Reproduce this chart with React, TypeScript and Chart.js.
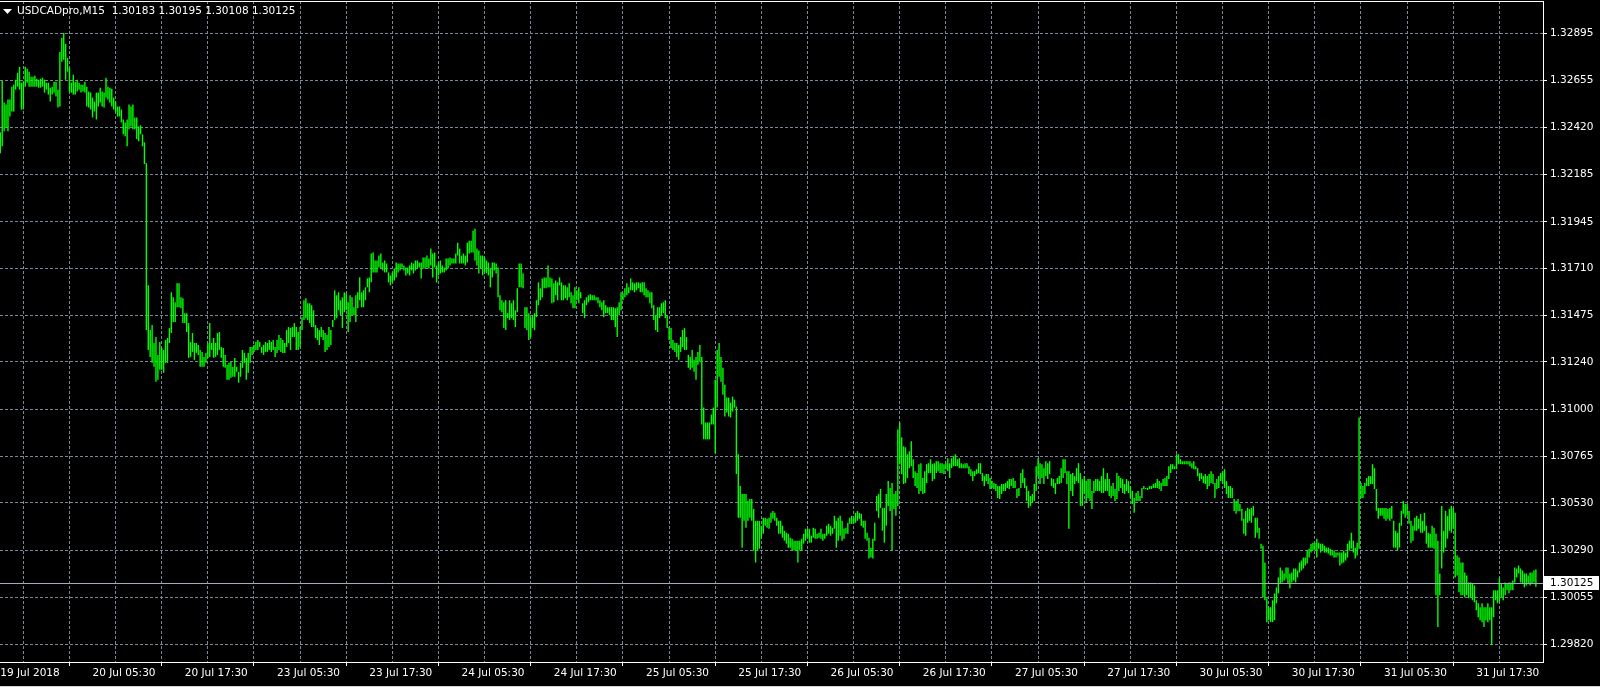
import React, { useEffect, useRef } from 'react';
import { Chart, registerables } from 'chart.js';

Chart.register(...registerables);

const chartSymbol = 'USDCADpro,M15';
const lastBarOhlc = ['1.30183', '1.30195', '1.30108', '1.30125'];
const lastClose = 1.30125;

const xTickLabels = [
  '19 Jul 2018', '20 Jul 05:30', '20 Jul 17:30', '23 Jul 05:30', '23 Jul 17:30', '24 Jul 05:30',
  '24 Jul 17:30', '25 Jul 05:30', '25 Jul 17:30', '26 Jul 05:30', '26 Jul 17:30', '27 Jul 05:30',
  '27 Jul 17:30', '30 Jul 05:30', '30 Jul 17:30', '31 Jul 05:30', '31 Jul 17:30',
];

const yTickLabels = [
  '1.29820', '1.30055', '1.30290', '1.30530', '1.30765', '1.31000', '1.31240',
  '1.31475', '1.31710', '1.31945', '1.32185', '1.32420', '1.32655', '1.32895',
];

const highs = [
  1.32395, 1.32655, 1.32545, 1.32535, 1.3256, 1.3256, 1.32625, 1.32635, 1.3266, 1.32695,
  1.32725, 1.32645, 1.3265, 1.32725, 1.32715, 1.327, 1.32675, 1.32675, 1.3268, 1.32665,
  1.3266, 1.32665, 1.3267, 1.3266, 1.32645, 1.32645, 1.3262, 1.32625, 1.3265, 1.3265,
  1.3261, 1.328, 1.3287, 1.32895, 1.3284, 1.3277, 1.3272, 1.32645, 1.32685, 1.3265,
  1.3266, 1.32645, 1.32635, 1.32635, 1.3265, 1.32625, 1.326, 1.32595, 1.3257, 1.3255,
  1.32595, 1.32595, 1.3262, 1.326, 1.32595, 1.3267, 1.32625, 1.3262, 1.32615, 1.3257,
  1.3255, 1.32525, 1.32525, 1.3251, 1.3246, 1.32445, 1.3246, 1.32535, 1.32525, 1.32535,
  1.3247, 1.3247, 1.32425, 1.3243, 1.32385, 1.32345, 1.3224, 1.31625, 1.314, 1.31425,
  1.31335, 1.31365, 1.31275, 1.3134, 1.3131, 1.313, 1.3135, 1.3136, 1.3141, 1.3159,
  1.31565, 1.3154, 1.31635, 1.31635, 1.31565, 1.3156, 1.31485, 1.31485, 1.31435, 1.3134,
  1.31385, 1.31335, 1.31335, 1.31325, 1.313, 1.3129, 1.31265, 1.31285, 1.31335, 1.31435,
  1.31335, 1.3136, 1.31335, 1.31385, 1.3139, 1.31315, 1.3131, 1.31275, 1.31225, 1.31235,
  1.3124, 1.31215, 1.3126, 1.31215, 1.3119, 1.31235, 1.313, 1.31285, 1.3126, 1.31285,
  1.31315, 1.31315, 1.31325, 1.3134, 1.3135, 1.3134, 1.31315, 1.31325, 1.3134, 1.31335,
  1.3135, 1.3134, 1.3135, 1.31315, 1.3135, 1.31375, 1.3136, 1.3135, 1.31335, 1.314,
  1.31415, 1.3141, 1.31415, 1.31435, 1.31415, 1.3139, 1.31415, 1.31465, 1.3155, 1.3156,
  1.31535, 1.31535, 1.31525, 1.315, 1.31425, 1.3141, 1.314, 1.31415, 1.314, 1.31385,
  1.31375, 1.31415, 1.314, 1.3145, 1.316, 1.31575, 1.3159, 1.3155, 1.31565, 1.3159,
  1.31585, 1.3154, 1.31575, 1.31565, 1.31515, 1.31575, 1.3159, 1.31665, 1.3159, 1.316,
  1.31615, 1.3166, 1.31665, 1.31785, 1.3179, 1.3175, 1.3175, 1.31775, 1.31785, 1.3174,
  1.3175, 1.31735, 1.3169, 1.31675, 1.3169, 1.3171, 1.3174, 1.31735, 1.31735, 1.31735,
  1.31725, 1.31715, 1.31715, 1.31725, 1.3174, 1.31735, 1.3175, 1.3175, 1.3174, 1.3174,
  1.31765, 1.31765, 1.31775, 1.3176, 1.3181, 1.31785, 1.3179, 1.31725, 1.3174, 1.3175,
  1.31725, 1.31715, 1.3176, 1.3176, 1.31765, 1.3176, 1.3176, 1.31785, 1.3184, 1.3181,
  1.31775, 1.31785, 1.31775, 1.3184, 1.3185, 1.3185, 1.319, 1.3191, 1.3181, 1.318,
  1.31775, 1.31775, 1.31765, 1.3175, 1.3174, 1.3171, 1.3174, 1.3174, 1.31735, 1.31715,
  1.31575, 1.3155, 1.3154, 1.3155, 1.31485, 1.3155, 1.31535, 1.3155, 1.315, 1.3161,
  1.31735, 1.31735, 1.31685, 1.31515, 1.31515, 1.31485, 1.31465, 1.31475, 1.31485, 1.3155,
  1.3164, 1.3161, 1.3166, 1.31665, 1.31665, 1.31725, 1.31665, 1.3166, 1.31635, 1.3165,
  1.3164, 1.31665, 1.3164, 1.31625, 1.31625, 1.31615, 1.31635, 1.3159, 1.31575, 1.31615,
  1.316, 1.31615, 1.3159, 1.31535, 1.3155, 1.31565, 1.31575, 1.3158, 1.31575, 1.31575,
  1.31565, 1.31565, 1.3155, 1.3154, 1.3155, 1.31525, 1.31515, 1.31515, 1.31515, 1.31515,
  1.3151, 1.31515, 1.3154, 1.3159, 1.31585, 1.3161, 1.31635, 1.31615, 1.3166, 1.3164,
  1.31635, 1.3164, 1.3164, 1.31635, 1.3164, 1.3164, 1.3161, 1.316, 1.3159, 1.3159,
  1.31525, 1.31475, 1.31515, 1.31515, 1.31535, 1.3154, 1.3155, 1.31475, 1.31415, 1.3141,
  1.3135, 1.31335, 1.31335, 1.31325, 1.31365, 1.314, 1.3141, 1.31365, 1.31275, 1.31265,
  1.313, 1.3125, 1.31265, 1.3129, 1.31325, 1.31265, 1.3101, 1.30935, 1.30935, 1.30935,
  1.30975, 1.3101, 1.3115, 1.313, 1.31335, 1.31265, 1.3121, 1.31125, 1.3106, 1.3106,
  1.31035, 1.31065, 1.3105, 1.31015, 1.30775, 1.30615, 1.30575, 1.30575, 1.30575, 1.3054,
  1.3055, 1.3055, 1.305, 1.3044, 1.3044, 1.3044, 1.30415, 1.30455, 1.30455, 1.3045,
  1.30455, 1.3048, 1.3049, 1.3048, 1.30455, 1.3044, 1.3044, 1.30415, 1.3039, 1.3038,
  1.30375, 1.30355, 1.3035, 1.3034, 1.3034, 1.3034, 1.3034, 1.3035, 1.30375, 1.304,
  1.304, 1.304, 1.30365, 1.30405, 1.304, 1.30375, 1.3038, 1.304, 1.30375, 1.30375,
  1.30415, 1.30425, 1.30415, 1.30405, 1.30465, 1.3044, 1.30455, 1.30465, 1.3044, 1.304,
  1.30405, 1.3043, 1.30455, 1.30465, 1.30455, 1.3048, 1.3049, 1.3048, 1.30475, 1.3044,
  1.3044, 1.3038, 1.30355, 1.30305, 1.3035, 1.3043, 1.30565, 1.30575, 1.306, 1.30505,
  1.30505, 1.30575, 1.3064, 1.30605, 1.3063, 1.30575, 1.3059, 1.309, 1.30935, 1.3086,
  1.30815, 1.3081, 1.30775, 1.3079, 1.3084, 1.3075, 1.3069, 1.3068, 1.30725, 1.3073,
  1.30655, 1.3069, 1.30725, 1.3073, 1.3075, 1.30725, 1.3073, 1.3074, 1.3074, 1.3073,
  1.3073, 1.30725, 1.3073, 1.30755, 1.3073, 1.30755, 1.30765, 1.30775, 1.3075, 1.30755,
  1.3073, 1.30725, 1.3073, 1.3073, 1.30715, 1.307, 1.3069, 1.3069, 1.307, 1.3073,
  1.3073, 1.3068, 1.30665, 1.30675, 1.30675, 1.30655, 1.3064, 1.3063, 1.30625, 1.30615,
  1.30615, 1.30625, 1.30625, 1.3063, 1.3064, 1.3065, 1.3065, 1.30655, 1.3064, 1.306,
  1.30605, 1.3068, 1.307, 1.30655, 1.30615, 1.3059, 1.30565, 1.30575, 1.30625, 1.30715,
  1.30755, 1.3073, 1.30725, 1.30705, 1.3074, 1.3073, 1.3074, 1.30655, 1.3065, 1.3063,
  1.30655, 1.30665, 1.30705, 1.3075, 1.3075, 1.3069, 1.3069, 1.30675, 1.3068, 1.30665,
  1.30705, 1.3073, 1.3068, 1.3065, 1.30665, 1.3064, 1.3065, 1.3065, 1.3059, 1.3064,
  1.3065, 1.3065, 1.3064, 1.30665, 1.30705, 1.3065, 1.3068, 1.3065, 1.30615, 1.3063,
  1.306, 1.3068, 1.30665, 1.30655, 1.3065, 1.30625, 1.3065, 1.3064, 1.30615, 1.3059,
  1.30555, 1.3058, 1.3059, 1.30565, 1.30605, 1.30615, 1.30605, 1.30605, 1.30615, 1.30615,
  1.30625, 1.3063, 1.3065, 1.3064, 1.3063, 1.3065, 1.30655, 1.30665, 1.30715, 1.30725,
  1.30725, 1.30715, 1.30775, 1.30775, 1.3075, 1.3074, 1.3074, 1.3074, 1.3074, 1.3074,
  1.3073, 1.3074, 1.30715, 1.30705, 1.3068, 1.3068, 1.30665, 1.30675, 1.30665, 1.30675,
  1.3069, 1.30675, 1.3063, 1.3065, 1.30665, 1.3068, 1.3069, 1.307, 1.3064, 1.30615,
  1.30615, 1.30605, 1.3055, 1.3054, 1.3055, 1.30525, 1.305, 1.3045, 1.3049, 1.30505,
  1.305, 1.30505, 1.30515, 1.30455, 1.30455, 1.30405, 1.30325, 1.30315, 1.3023, 1.3005,
  1.30005, 1.30005, 1.3004, 1.30075, 1.30105, 1.30155, 1.30205, 1.3019, 1.30175, 1.30205,
  1.30205, 1.30175, 1.3018, 1.302, 1.302, 1.3019, 1.3023, 1.3024, 1.30255, 1.30255,
  1.3029, 1.303, 1.30325, 1.3033, 1.3033, 1.3035, 1.3033, 1.30325, 1.30325, 1.30315,
  1.30305, 1.30305, 1.303, 1.3029, 1.3029, 1.3028, 1.3028, 1.3028, 1.3028, 1.3029,
  1.3028, 1.30325, 1.3034, 1.3038, 1.3034, 1.30305, 1.3033, 1.3096, 1.3063, 1.30615,
  1.3063, 1.30655, 1.30665, 1.30665, 1.30725, 1.30705, 1.306, 1.30505, 1.30505, 1.30505,
  1.30505, 1.30505, 1.305, 1.30505, 1.30515, 1.3044, 1.3039, 1.3038, 1.3043, 1.3049,
  1.3054, 1.30525, 1.30525, 1.3049, 1.3044, 1.30415, 1.30455, 1.30465, 1.3045, 1.30475,
  1.3044, 1.3048, 1.30415, 1.3038, 1.30375, 1.30415, 1.30405, 1.30375, 1.3034, 1.30175,
  1.30515, 1.3039, 1.3049, 1.30465, 1.305, 1.30515, 1.30505, 1.3048, 1.30265, 1.30255,
  1.3023, 1.3023, 1.3018, 1.30165, 1.3013, 1.3013, 1.30125, 1.30115, 1.3004, 1.30025,
  1.30005, 1.30025, 1.30005, 1.30005, 1.30025, 1.30005, 1.30005, 1.3009, 1.3009, 1.3009,
  1.30155, 1.30125, 1.30105, 1.3013, 1.30125, 1.3013, 1.3013, 1.3014, 1.30205, 1.302,
  1.30215, 1.302, 1.3019, 1.30175, 1.30175, 1.30165, 1.3018, 1.3018, 1.3019, 1.30195,
];

const lows = [
  1.3229, 1.32325, 1.324, 1.3242, 1.324, 1.32475, 1.325, 1.325, 1.3261, 1.32625,
  1.3261, 1.3251, 1.3251, 1.32625, 1.32645, 1.32625, 1.32625, 1.32625, 1.32625, 1.32625,
  1.3262, 1.3262, 1.32625, 1.32595, 1.3261, 1.32585, 1.3255, 1.32585, 1.32595, 1.32575,
  1.3252, 1.32525, 1.3275, 1.3276, 1.3266, 1.327, 1.326, 1.32595, 1.32585, 1.32585,
  1.326, 1.3261, 1.32595, 1.326, 1.32595, 1.32525, 1.3252, 1.3251, 1.3247, 1.325,
  1.3246, 1.32525, 1.32545, 1.32525, 1.3252, 1.3257, 1.3256, 1.32545, 1.32525, 1.3251,
  1.325, 1.32475, 1.32475, 1.32445, 1.32385, 1.32375, 1.32325, 1.3241, 1.32425, 1.3241,
  1.3241, 1.3236, 1.3235, 1.32385, 1.32325, 1.32235, 1.314, 1.313, 1.31265, 1.31235,
  1.31215, 1.3114, 1.3115, 1.312, 1.312, 1.31185, 1.31235, 1.31235, 1.31335, 1.31385,
  1.3144, 1.3144, 1.31515, 1.31515, 1.3151, 1.31435, 1.31435, 1.3139, 1.3126, 1.31265,
  1.3129, 1.3125, 1.31285, 1.31275, 1.31215, 1.31215, 1.31215, 1.31235, 1.3126, 1.31265,
  1.313, 1.3126, 1.31265, 1.31275, 1.313, 1.3126, 1.31215, 1.3121, 1.3115, 1.3115,
  1.3116, 1.31165, 1.31165, 1.3119, 1.31135, 1.31165, 1.3121, 1.31235, 1.3115, 1.31185,
  1.31235, 1.31275, 1.3129, 1.313, 1.313, 1.31315, 1.31285, 1.31275, 1.3129, 1.3129,
  1.313, 1.3129, 1.313, 1.31265, 1.31285, 1.313, 1.3129, 1.31285, 1.31285, 1.31315,
  1.31335, 1.313, 1.31365, 1.31365, 1.313, 1.313, 1.31315, 1.314, 1.3145, 1.3146,
  1.3145, 1.31435, 1.31415, 1.31415, 1.3136, 1.3135, 1.31325, 1.31365, 1.3135, 1.3129,
  1.313, 1.31315, 1.31325, 1.31415, 1.3145, 1.3146, 1.315, 1.31475, 1.3141, 1.3149,
  1.315, 1.3139, 1.3144, 1.31475, 1.31475, 1.3144, 1.3151, 1.3155, 1.31515, 1.31515,
  1.3155, 1.31615, 1.3159, 1.3164, 1.3169, 1.3169, 1.3169, 1.31715, 1.3171, 1.317,
  1.3169, 1.3169, 1.3164, 1.31625, 1.3164, 1.3165, 1.31665, 1.3169, 1.317, 1.31715,
  1.317, 1.31675, 1.31685, 1.31675, 1.317, 1.31685, 1.317, 1.3171, 1.31715, 1.3166,
  1.3171, 1.3171, 1.31715, 1.3171, 1.31725, 1.31665, 1.31715, 1.3164, 1.31675, 1.31685,
  1.3169, 1.3169, 1.317, 1.3171, 1.31725, 1.31735, 1.31735, 1.31735, 1.31775, 1.31735,
  1.31735, 1.31735, 1.31725, 1.3174, 1.31785, 1.3179, 1.3179, 1.3175, 1.31725, 1.31685,
  1.3171, 1.31675, 1.3169, 1.31685, 1.31675, 1.31615, 1.31665, 1.317, 1.31685, 1.31565,
  1.315, 1.3149, 1.3141, 1.314, 1.3146, 1.3145, 1.3146, 1.3145, 1.31415, 1.3149,
  1.31615, 1.31615, 1.3161, 1.3141, 1.314, 1.3135, 1.31365, 1.3141, 1.314, 1.31465,
  1.31525, 1.3155, 1.31565, 1.3161, 1.3161, 1.31615, 1.31615, 1.31535, 1.3154, 1.31575,
  1.3155, 1.31625, 1.3155, 1.3155, 1.3156, 1.3155, 1.31565, 1.31535, 1.3151, 1.3151,
  1.3155, 1.31535, 1.3156, 1.31485, 1.3146, 1.31525, 1.3154, 1.3155, 1.3155, 1.3155,
  1.3155, 1.31535, 1.31515, 1.315, 1.31465, 1.31485, 1.31485, 1.31475, 1.3145, 1.3145,
  1.31415, 1.31365, 1.31475, 1.315, 1.3155, 1.31565, 1.31575, 1.31585, 1.316, 1.316,
  1.3159, 1.316, 1.3161, 1.3159, 1.3159, 1.31575, 1.31565, 1.31565, 1.31535, 1.3151,
  1.3145, 1.314, 1.3139, 1.3146, 1.31475, 1.31485, 1.3146, 1.3141, 1.3135, 1.3131,
  1.313, 1.3129, 1.31265, 1.3125, 1.3129, 1.31315, 1.313, 1.313, 1.3121, 1.312,
  1.3121, 1.3119, 1.3115, 1.31225, 1.3124, 1.30925, 1.3085, 1.3085, 1.3085, 1.3085,
  1.30925, 1.30925, 1.3078, 1.3101, 1.31165, 1.3114, 1.31075, 1.30965, 1.30985, 1.30965,
  1.3096, 1.3099, 1.3101, 1.30675, 1.30455, 1.30455, 1.30305, 1.3044, 1.30405, 1.3044,
  1.30455, 1.3044, 1.3029, 1.3023, 1.3029, 1.303, 1.3035, 1.30375, 1.30415, 1.30405,
  1.304, 1.3043, 1.3045, 1.3044, 1.30415, 1.30375, 1.30375, 1.30355, 1.3034, 1.30325,
  1.30305, 1.30305, 1.3029, 1.3029, 1.3029, 1.3023, 1.3029, 1.3029, 1.30325, 1.3034,
  1.30355, 1.3033, 1.3033, 1.30355, 1.3035, 1.3035, 1.30355, 1.3035, 1.3034, 1.3035,
  1.30365, 1.30375, 1.30365, 1.30375, 1.304, 1.30305, 1.3034, 1.30365, 1.3034, 1.3035,
  1.30375, 1.30375, 1.30425, 1.30425, 1.30425, 1.3043, 1.3044, 1.3045, 1.30415, 1.30405,
  1.3035, 1.3034, 1.3025, 1.30255, 1.3025, 1.3034, 1.3049, 1.30455, 1.30505, 1.3039,
  1.3033, 1.30415, 1.30515, 1.3049, 1.3029, 1.305, 1.30465, 1.30515, 1.30725, 1.30675,
  1.30625, 1.3063, 1.30655, 1.30705, 1.30715, 1.30655, 1.30615, 1.30605, 1.30575, 1.3059,
  1.30575, 1.3058, 1.3063, 1.3068, 1.3068, 1.3064, 1.3065, 1.3068, 1.3069, 1.3068,
  1.3068, 1.30675, 1.307, 1.3069, 1.30655, 1.30705, 1.30715, 1.30715, 1.30715, 1.30705,
  1.30705, 1.30705, 1.30705, 1.30705, 1.30675, 1.30665, 1.3064, 1.30665, 1.30675, 1.3068,
  1.30675, 1.3064, 1.30615, 1.3064, 1.30625, 1.306, 1.30605, 1.306, 1.3059, 1.30555,
  1.3055, 1.30575, 1.3059, 1.3059, 1.30605, 1.306, 1.30615, 1.30605, 1.30605, 1.30555,
  1.30565, 1.30605, 1.3063, 1.30605, 1.3054, 1.30505, 1.30515, 1.3053, 1.3054, 1.3059,
  1.30665, 1.30625, 1.30655, 1.30625, 1.30665, 1.3065, 1.30675, 1.30615, 1.30605, 1.30575,
  1.30625, 1.30625, 1.3063, 1.30655, 1.3068, 1.30625, 1.304, 1.3059, 1.30565, 1.30625,
  1.3064, 1.3063, 1.30515, 1.30515, 1.30575, 1.3053, 1.30555, 1.3054, 1.305, 1.3058,
  1.3059, 1.3059, 1.3059, 1.3058, 1.3058, 1.3059, 1.3059, 1.30565, 1.30555, 1.30565,
  1.3054, 1.3055, 1.3059, 1.30605, 1.3058, 1.30575, 1.3059, 1.3058, 1.30555, 1.30525,
  1.3048, 1.3054, 1.3054, 1.3054, 1.30555, 1.306, 1.306, 1.30595, 1.306, 1.306,
  1.30605, 1.30605, 1.30605, 1.306, 1.3059, 1.30615, 1.30615, 1.30615, 1.3065, 1.3068,
  1.307, 1.307, 1.307, 1.30725, 1.30725, 1.30725, 1.30725, 1.30725, 1.30725, 1.30715,
  1.30705, 1.307, 1.307, 1.30665, 1.3064, 1.3065, 1.3063, 1.30625, 1.306, 1.30615,
  1.3063, 1.30625, 1.30555, 1.306, 1.30605, 1.3064, 1.30625, 1.30605, 1.30575, 1.30555,
  1.30555, 1.30555, 1.3049, 1.30475, 1.3049, 1.3049, 1.3044, 1.30375, 1.30365, 1.3043,
  1.3044, 1.3043, 1.30465, 1.30355, 1.3038, 1.3035, 1.303, 1.30055, 1.3004, 1.2993,
  1.2994, 1.2993, 1.2993, 1.2994, 1.30025, 1.30075, 1.30125, 1.3013, 1.3014, 1.3015,
  1.30125, 1.301, 1.3013, 1.3014, 1.3013, 1.30155, 1.3018, 1.3019, 1.302, 1.30215,
  1.30225, 1.30255, 1.3028, 1.3029, 1.3029, 1.30255, 1.303, 1.3028, 1.3029, 1.3028,
  1.3028, 1.30275, 1.30265, 1.30265, 1.30255, 1.30255, 1.30265, 1.30215, 1.30225, 1.3023,
  1.3024, 1.30255, 1.3029, 1.303, 1.3028, 1.3025, 1.30265, 1.303, 1.30555, 1.30555,
  1.30575, 1.30615, 1.30615, 1.30625, 1.30625, 1.306, 1.3049, 1.3045, 1.30465, 1.30465,
  1.3045, 1.3044, 1.3045, 1.3044, 1.3045, 1.30305, 1.30305, 1.3029, 1.30305, 1.30415,
  1.30475, 1.30455, 1.30465, 1.30425, 1.3033, 1.3034, 1.3039, 1.3039, 1.304, 1.3038,
  1.3038, 1.3039, 1.30325, 1.30305, 1.30305, 1.30305, 1.303, 1.30065, 1.29905, 1.30065,
  1.302, 1.3028, 1.30305, 1.3035, 1.3039, 1.3038, 1.304, 1.30155, 1.30165, 1.3008,
  1.30065, 1.30065, 1.30055, 1.30065, 1.3005, 1.30055, 1.3004, 1.3003, 1.2999, 1.29955,
  1.2994, 1.2993, 1.29905, 1.2994, 1.2993, 1.2994, 1.29815, 1.29955, 1.3004, 1.30025,
  1.3003, 1.30055, 1.3004, 1.30065, 1.3009, 1.30075, 1.3009, 1.3009, 1.3013, 1.30155,
  1.30175, 1.3013, 1.30125, 1.30105, 1.30115, 1.30125, 1.30115, 1.30125, 1.3013, 1.30108,
];

const BARS_PER_LABEL = 48;
const BARS_PER_GRID = 24;
const FONT_FAMILY = 'DejaVu Sans';
const GRID_COLOR = '#778899';
const BAR_COLOR = '#00ff00';

const overlayPlugin = {
  id: 'mtOverlay',
  afterDatasetsDraw(chart: any) {
    const { ctx, chartArea, scales } = chart;
    const y = Math.round(scales.y.getPixelForValue(lastClose)) + 0.5;
    ctx.save();
    ctx.strokeStyle = '#a3acb8';
    ctx.lineWidth = 1;
    ctx.beginPath();
    ctx.moveTo(chartArea.left, y);
    ctx.lineTo(chartArea.right, y);
    ctx.stroke();
    ctx.restore();
  },
  afterDraw(chart: any) {
    const { ctx, chartArea, scales, width, height } = chart;
    ctx.save();
    ctx.strokeStyle = '#ffffff';
    ctx.lineWidth = 1;
    ctx.beginPath();
    ctx.moveTo(chartArea.left, chartArea.top + 0.5);
    ctx.lineTo(chartArea.right + 1, chartArea.top + 0.5);
    ctx.stroke();

    ctx.fillStyle = '#d4d4d4';
    ctx.fillRect(0, height - 1, width, 1);

    ctx.fillStyle = '#ffffff';
    ctx.beginPath();
    ctx.moveTo(3, 9);
    ctx.lineTo(12, 9);
    ctx.lineTo(7.5, 14);
    ctx.closePath();
    ctx.fill();
    ctx.font = `10.5px "${FONT_FAMILY}"`;
    ctx.textBaseline = 'middle';
    ctx.textAlign = 'left';
    ctx.fillText(`${chartSymbol}  ${lastBarOhlc.join(' ')}`, 17, 11.5);

    const py = Math.round(scales.y.getPixelForValue(lastClose));
    ctx.fillStyle = '#ffffff';
    ctx.fillRect(chartArea.right + 1, py - 7, 55, 14);
    ctx.fillStyle = '#000000';
    ctx.fillText(lastBarOhlc[3], chartArea.right + 7, py + 0.5);
    ctx.restore();
  },
};

export default function App() {
  const canvasRef = useRef<HTMLCanvasElement>(null);

  useEffect(() => {
    const canvas = canvasRef.current;
    if (!canvas) return;
    const font = { family: FONT_FAMILY, size: 10.5 };
    const chart = new Chart(canvas, {
      type: 'bar',
      data: {
        datasets: [
          {
            data: highs.map((h, i) => ({ x: i, y: [lows[i], h] })) as any,
            backgroundColor: BAR_COLOR,
            borderWidth: 0,
            barThickness: 1.4,
            inflateAmount: 0,
            grouped: false,
          } as any,
        ],
      },
      options: {
        animation: false,
        responsive: false,
        maintainAspectRatio: false,
        devicePixelRatio: 1,
        events: [],
        layout: { padding: { top: 1, left: 0, right: 0, bottom: 0 } },
        plugins: {
          legend: { display: false },
          tooltip: { enabled: false },
          title: { display: false },
        },
        scales: {
          x: {
            type: 'linear',
            min: -0.15,
            max: 802.7,
            offset: false,
            afterBuildTicks: (s: any) => {
              const t: any[] = [];
              for (let v = 0; v <= s.max; v += BARS_PER_GRID) t.push({ value: v });
              s.ticks = t;
            },
            afterFit: (s: any) => {
              s.height = 25;
              s.paddingLeft = 0;
              s.paddingRight = 0;
            },
            grid: {
              color: GRID_COLOR,
              lineWidth: 1,
              drawTicks: true,
              tickLength: 4,
              tickWidth: 1,
              tickBorderDash: [],
              tickColor: (c: any) =>
                c.tick && c.tick.value % BARS_PER_LABEL === 0 ? '#ffffff' : 'rgba(0,0,0,0)',
            },
            border: { display: true, color: '#ffffff', width: 1, dash: [3, 2] },
            ticks: {
              autoSkip: false,
              maxRotation: 0,
              minRotation: 0,
              align: 'start',
              padding: 1,
              color: '#ffffff',
              font,
              callback: (v: any) =>
                v % BARS_PER_LABEL === 0 ? xTickLabels[v / BARS_PER_LABEL] ?? '' : '',
            },
          } as any,
          y: {
            type: 'linear',
            position: 'right',
            min: 1.2972945,
            max: 1.3305605,
            afterBuildTicks: (s: any) => {
              s.ticks = yTickLabels.map((l) => ({ value: parseFloat(l) }));
            },
            afterFit: (s: any) => {
              s.width = 57;
              s.paddingTop = 0;
              s.paddingBottom = 0;
            },
            grid: {
              color: GRID_COLOR,
              lineWidth: 1,
              drawTicks: true,
              tickLength: 4,
              tickWidth: 1,
              tickBorderDash: [],
              tickColor: '#ffffff',
            },
            border: { display: true, color: '#ffffff', width: 1, dash: [3, 2] },
            ticks: {
              autoSkip: false,
              padding: 3,
              color: '#ffffff',
              font,
              callback: (_v: any, i: number) => yTickLabels[i],
            },
          } as any,
        },
      },
      plugins: [overlayPlugin],
    });
    return () => chart.destroy();
  }, []);

  return (
    <div
      style={{
        position: 'absolute',
        left: 0,
        top: 0,
        width: 1600,
        height: 687,
        background: '#000000',
        overflow: 'hidden',
      }}
    >
      <canvas
        ref={canvasRef}
        width={1600}
        height={687}
        style={{ display: 'block', width: 1600, height: 687 }}
      />
    </div>
  );
}
